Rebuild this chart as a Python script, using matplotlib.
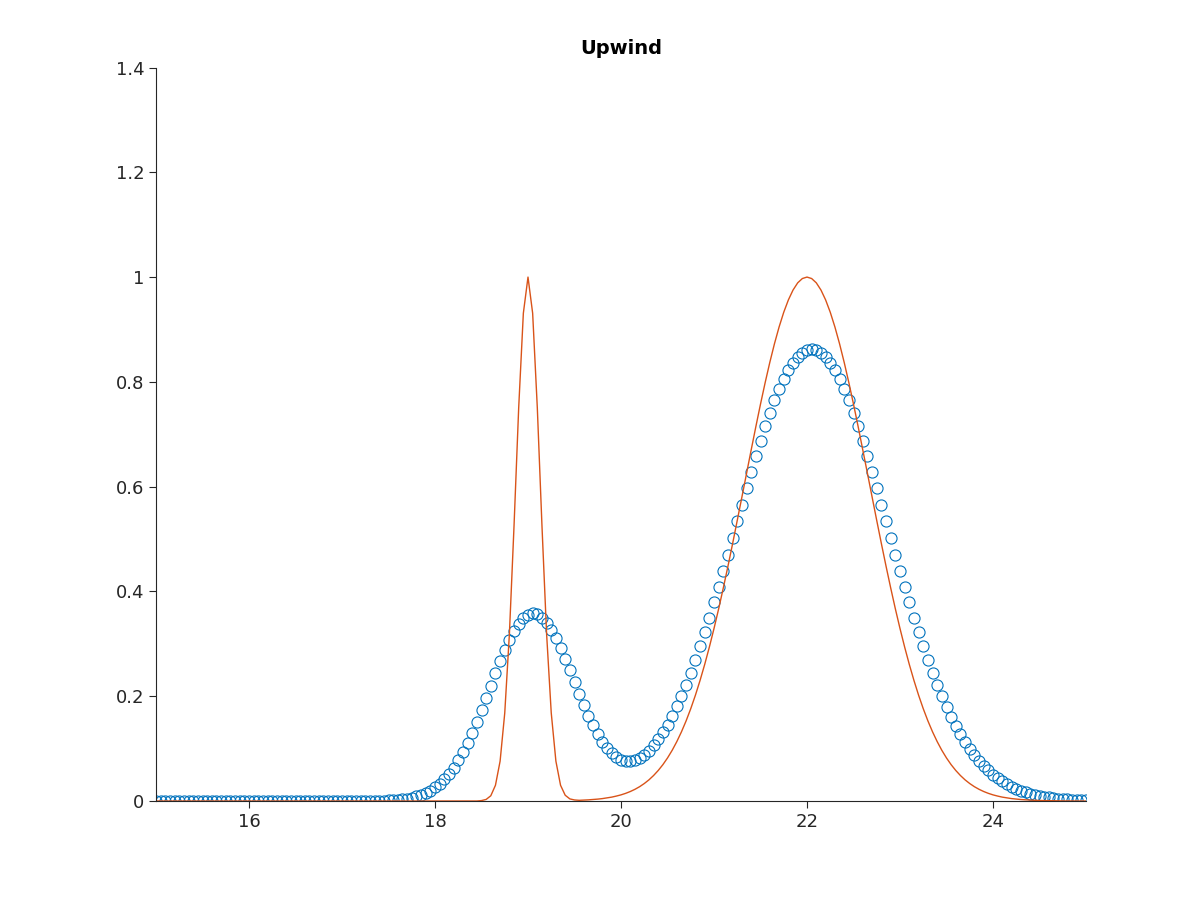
import numpy as np
import matplotlib
matplotlib.use("Agg")
import matplotlib.pyplot as plt

# numerical (upwind) solution, x grid 15..25 step 0.05
numerical = [0.0]*47 + [
    .0004, .0006, .0008, .0012, .0017, .0024, .0034, .0047, .0064, .0086,
    .0115, .0153, .0200, .0258, .0330, .0416, .0519, .0639, .0778, .0935,
    .1111, .1305, .1514, .1736, .1967, .2203, .2438, .2664, .2882, .3077,
    .3246, .3384, .3486, .3557, .3580, .3562, .3502, .3404, .3271, .3107,
    .2919, .2709, .2493, .2270, .2048, .1834, .1631, .1445, .1277, .1132,
    .1011, .0912, .0840, .0789, .0766, .0762, .0783, .0823, .0883, .0962,
    .1061, .1176, .1309, .1457, .1627, .1810, .2005, .2223, .2452, .2696,
    .2954, .3222, .3500, .3793, .4090, .4393, .4700, .5016, .5335, .5653,
    .5971, .6284, .6586, .6879, .7152, .7408, .7650, .7867, .8060, .8228,
    .8366, .8476, .8556, .8604, .8620, .8604, .8556, .8476, .8366, .8228,
    .8060, .7867, .7650, .7408, .7152, .6879, .6586, .6284, .5971, .5653,
    .5335, .5016, .4700, .4393, .4090, .3793, .3500, .3222, .2954, .2696,
    .2452, .2219, .1997, .1798, .1610, .1433, .1275, .1129, .0997, .0876,
    .0768, .0670, .0583, .0504, .0436, .0373, .0321, .0273, .0233, .0197,
    .0166, .0140, .0117, .0098, .0081, .0067, .0055, .0045, .0037, .0030,
    .0025, .0020, .0016, .0013]

_rise = [.0146, .0181, .0223, .0273, .0333, .0403, .0486, .0582, .0693, .0821,
         .0967, .1133, .1320, .1529, .1762, .2019, .2301, .2607, .2938, .3292,
         .3668, .4066, .4481, .4911, .5353, .5801, .6253, .6703, .7145, .7575,
         .7985, .8371, .8727, .9048, .9329, .9565, .9753, .9890, .9972, 1.0]
_fall = [.9972, .9890, .9753, .9565, .9329, .9048, .8727, .8371, .7985, .7575,
         .7145, .6703, .6253, .5801, .5353, .4911, .4481, .4066, .3668, .3292,
         .2938, .2607, .2301, .2019, .1762, .1529, .1320, .1133, .0967, .0821,
         .0693, .0582, .0486, .0403, .0333, .0273, .0223, .0181, .0146, .0117,
         .0094, .0074, .0059, .0046, .0036, .0028, .0022, .0017, .0013, .0010]
exact = [0.0]*70 + [
    .0008, .003, .010, .030, .076, .168, .319, .526, .751, .931,
    1.0, .931, .751, .526, .319, .168, .076, .030, .011, .004,
    .002, .0013, .0017, .0022, .0028, .0036, .0046, .0059, .0074, .0094,
    .0117] + _rise + _fall + [.0008, .0006, .0004, .0003, .0002, .0001, 0, 0, 0, 0]

x = np.linspace(15, 25, len(numerical))
xe = np.linspace(15, 25, len(exact))
xticks = [16, 18, 20, 22, 24]
yticks = [0, 0.2, 0.4, 0.6, 0.8, 1.0, 1.2, 1.4]
ylabels = ["0", "0.2", "0.4", "0.6", "0.8", "1", "1.2", "1.4"]

fig = plt.figure(figsize=(12, 9), dpi=100)
ax = fig.add_axes([0.13, 0.11, 0.775, 0.815])
ax.plot(x, numerical, 'o', mfc='none', mec='#0072BD', ms=8, mew=0.8)
ax.plot(xe, exact, '-', color='#D95319', lw=1)
ax.set_xlim(15, 25)
ax.set_ylim(0, 1.4)
ax.set_xticks(xticks)
ax.set_yticks(yticks)
ax.set_yticklabels(ylabels)
for s in ['top', 'right']:
    ax.spines[s].set_visible(False)
for s in ['left', 'bottom']:
    ax.spines[s].set_color('#262626')
    ax.spines[s].set_linewidth(0.8)
ax.tick_params(direction='out', length=5, width=0.8, colors='#262626', labelsize=13)
ax.set_title("Upwind", fontsize=14, fontweight='bold', pad=10)
fig.savefig("out.png")
